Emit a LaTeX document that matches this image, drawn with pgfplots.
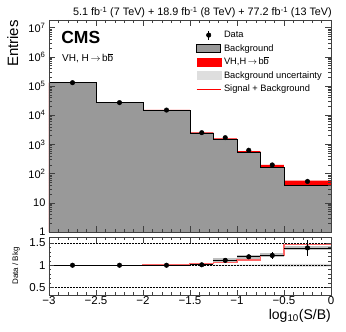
\documentclass[border=0pt]{standalone}
\usepackage{pgfplots}
\usepackage{pgfplotstable}
\pgfplotsset{compat=1.18}
\usepackage{fontspec}
\setmainfont{Liberation Sans}

\newcommand{\ob}{\makebox[0pt][l]{\rule[0.76em]{0.55em}{0.05em}}b}
\newcommand{\fs}[1]{\fontsize{#1}{#1}\selectfont}
\newcommand{\arr}{\,$\rightarrow$\,}

% histogram contents, bins with left edge x (last row repeats the final bin)
\pgfplotstableread{
x     bkg     tot     r     ulo    uhi
-3    1.3e5   1.3e5   1.00  0.997  1.003
-2.5  2.7e4   2.7e4   1.00  0.996  1.004
-2    1.5e4   1.53e4  1.02  0.995  1.005
-1.5  2.5e3   2.6e3   1.04  0.99   1.01
-1.25 1.53e3  1.62e3  1.06  0.99   1.01
-1    530     594     1.12  0.985  1.015
-0.75 162     198     1.22  0.975  1.025
-0.5  39      57      1.46  0.97   1.03
0     39      57      1.46  0.97   1.03
}\hist

\pgfplotstableread{
x      y      ex     ey     ry     ery
-2.75  1.3e5  0.25   360    1.00   0.003
-2.25  2.7e4  0.25   165    1.00   0.006
-1.75  1.5e4  0.25   122    1.00   0.008
-1.375 2.52e3 0.125  50     1.01   0.02
-1.125 1.70e3 0.125  41     1.11   0.027
-0.875 630    0.125  25     1.19   0.045
-0.625 198    0.125  14     1.22   0.085
-0.25  54     0.25   7.3    1.39   0.18
}\data

% grey boxes behind the ratio points of the high S/B bins
\pgfplotstableread{
x      ex     ry
-1.125 0.125  1.11
-0.875 0.125  1.19
-0.625 0.125  1.22
-0.25  0.25   1.39
}\dbox

\pgfplotsset{
  cmsframe/.style={
    scale only axis,
    width=282pt,
    axis line style={black!75, line width=0.8pt},
    tick style={black!75, line width=0.5pt},
    tick align=inside,
    xtick pos=both, ytick pos=both,
    major tick length=6pt, minor tick length=3pt,
    xmin=-3, xmax=0,
    xtick={-3,-2.5,-2,-1.5,-1,-0.5,0},
    minor x tick num=4,
    tick label style={font=\fs{11}},
    axis on top,
  },
}

\begin{document}
\begin{tikzpicture}
\path[use as bounding box] (0pt,0pt) rectangle (346pt,332pt);

\begin{axis}[cmsframe,
  at={(49pt,100pt)}, anchor=south west,
  height=212pt,
  ymode=log, ymin=1, ymax=1.82e7,
  ytick={1,10,100,1000,1e4,1e5,1e6,1e7},
  yticklabels={1,10,10\textsuperscript{2},10\textsuperscript{3},10\textsuperscript{4},10\textsuperscript{5},10\textsuperscript{6},10\textsuperscript{7}},
  xticklabels={},
  legend cell align=left,
  legend style={draw=none, fill=none, font=\fs{9.3},
    at={(axis description cs:0.522,0.958)}, anchor=north west,
    inner sep=0pt, row sep=1.5pt,
    nodes={inner sep=1.5pt, text height=7pt, text depth=2pt},
    /tikz/every odd column/.append style={column sep=1.5pt}},
]
\addlegendimage{black, mark=*, mark size=2.3pt, only marks,
  legend image code/.code={\draw[black, line width=0.6pt] (12pt,-4.5pt)--(12pt,4.5pt);
    \fill[black] (12pt,0pt) circle (2.3pt);}}
\addlegendentry{Data}
\addlegendimage{legend image code/.code={\draw[fill=black!40, draw=black, line width=0.5pt] (0pt,-4pt) rectangle (24pt,4pt);}}
\addlegendentry{Background}
\addlegendimage{legend image code/.code={\fill[red] (0pt,-4pt) rectangle (24pt,4pt);}}
\addlegendentry{VH,H\arr b\ob}
\addlegendimage{legend image code/.code={\fill[black!13] (0pt,-4pt) rectangle (24pt,4pt);}}
\addlegendentry{Background uncertainty}
\addlegendimage{legend image code/.code={\draw[red, line width=0.6pt] (0pt,0pt)--(24pt,0pt);}}
\addlegendentry{Signal + Background}

\addplot[const plot, fill=red, draw=none, forget plot] table[x=x, y=tot] {\hist} \closedcycle;
\addplot[const plot, fill=black!40, draw=black, line width=0.5pt, forget plot] table[x=x, y=bkg] {\hist} \closedcycle;
\addplot[only marks, mark=*, mark size=2.3pt, black, forget plot,
  error bars/.cd, y dir=both, y explicit, error bar style={line width=0.6pt}, error mark=none]
  table[x=x, y=y, y error=ey] {\data};

\node[anchor=base west, inner sep=0pt, font=\fs{17.5}\bfseries] at (axis description cs:0.043,0.889) {CMS};
\node[anchor=base west, inner sep=0pt, font=\fs{10}] at (axis description cs:0.046,0.803) {VH, H\arr b\ob};
\end{axis}

\node[rotate=90, anchor=base east, inner sep=0pt, font=\fs{15}] at (18pt,312pt) {Entries};
\node[anchor=base east, inner sep=0pt, font=\fs{10.8}] at (332pt,316pt) {5.1 fb\textsuperscript{-1} (7 TeV) + 18.9 fb\textsuperscript{-1} (8 TeV) + 77.2 fb\textsuperscript{-1} (13 TeV)};

\begin{axis}[cmsframe,
  at={(49pt,37pt)}, anchor=south west,
  height=57.3pt,
  ymin=0.33, ymax=1.62,
  ytick={0.5,1,1.5}, yticklabels={0.5,1,1.5},
  minor y tick num=4,
  major tick length=5pt, minor tick length=2.5pt,
  tick label style={font=\fs{11.5}},
  xticklabel style={inner sep=1pt},
  xticklabels={−3,−2.5,−2,−1.5,−1,−0.5,0},
]
\addplot[const plot, fill=black!15, draw=none] table[x=x, y=uhi] {\hist} \closedcycle;
\addplot[const plot, fill=white, draw=none] table[x=x, y=ulo] {\hist} \closedcycle;
\addplot[black, densely dotted, line width=0.5pt] coordinates {(-3,0.5) (0,0.5)};
\addplot[black, densely dotted, line width=0.5pt] coordinates {(-3,1) (0,1)};
\addplot[black, densely dotted, line width=0.5pt] coordinates {(-3,1.5) (0,1.5)};
\addplot[only marks, mark=none, draw=none,
  error bars/.cd, x dir=both, x explicit,
  error bar style={line width=4pt, black!25}, error mark=none]
  table[x=x, y=ry, x error=ex] {\dbox};
\addplot[const plot, red!60, line width=1.2pt] table[x=x, y=r] {\hist};
\addplot[only marks, mark=*, mark size=2.3pt, black,
  error bars/.cd, x dir=both, x explicit, y dir=both, y explicit,
  error bar style={line width=0.6pt}, error mark=none]
  table[x=x, y=ry, x error=ex, y error=ery] {\data};
\end{axis}

\node[rotate=90, anchor=base, inner sep=0pt, font=\fs{8}] at (18pt,66pt) {Data / Bkg};
\node[anchor=base east, inner sep=0pt, font=\fs{14}] at (331pt,12.5pt) {log\textsubscript{10}(S/B)};
\end{tikzpicture}
\end{document}
